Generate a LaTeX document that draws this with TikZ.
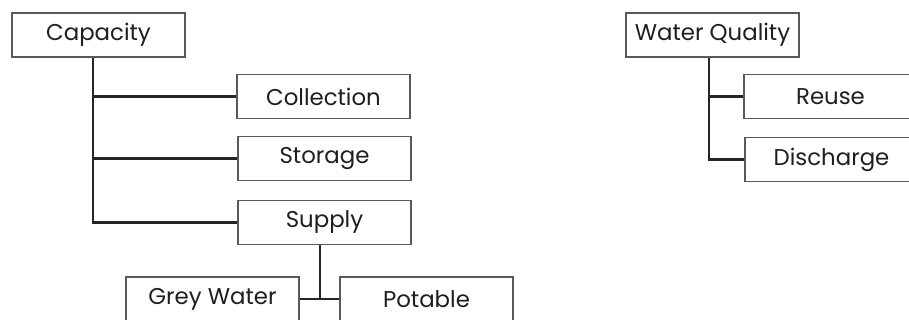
\documentclass[tikz,border=0pt]{standalone}
\usepackage{fontspec}
\setmainfont{Poppins}
\begin{document}
\begin{tikzpicture}[x=0.3mm,y=-0.3mm,
  box/.style={draw=black!65,line width=0.45mm,fill=white,minimum width=51.9mm,minimum height=13.2mm,inner sep=0pt,text=black!88,font=\fontsize{19.5}{21}\selectfont},
  conn/.style={line width=0.8mm,black!85}]
\clip (0,0) rectangle (909,320);
\fill[white] (0,0) rectangle (909,320);
% capacity branch
\node[box] (cap) at (98.5,35) {Capacity};
\node[box] (coll) at (323.5,96.5) {Collection};
\node[box] (stor) at (324.5,158.5) {Storage};
\node[box] (sup) at (324.5,222.5) {Supply};
\node[box] (grey) at (212.5,299) {Grey Water};
\node[box] (pot) at (426.5,299) {Potable};
\draw[conn] ([xshift=-1.65mm]cap.south) |- (coll.west);
\draw[conn] ([xshift=-1.65mm]cap.south) |- (stor.west);
\draw[conn] ([xshift=-1.65mm]cap.south) |- (sup.west);
\draw[conn] ([xshift=-1.35mm]sup.south) -- ([xshift=-1.35mm]sup.south |- grey.east);
\draw[conn] (grey.east) -- (pot.west);
% water quality branch
\node[box] (wq) at (712.5,35) {Water Quality};
\node[box] (reuse) at (830.5,96.5) {Reuse};
\node[box] (dis) at (831.5,159.5) {Discharge};
\draw[conn] ([xshift=-1.05mm]wq.south) |- (reuse.west);
\draw[conn] ([xshift=-1.05mm]wq.south) |- (dis.west);
\end{tikzpicture}
\end{document}
